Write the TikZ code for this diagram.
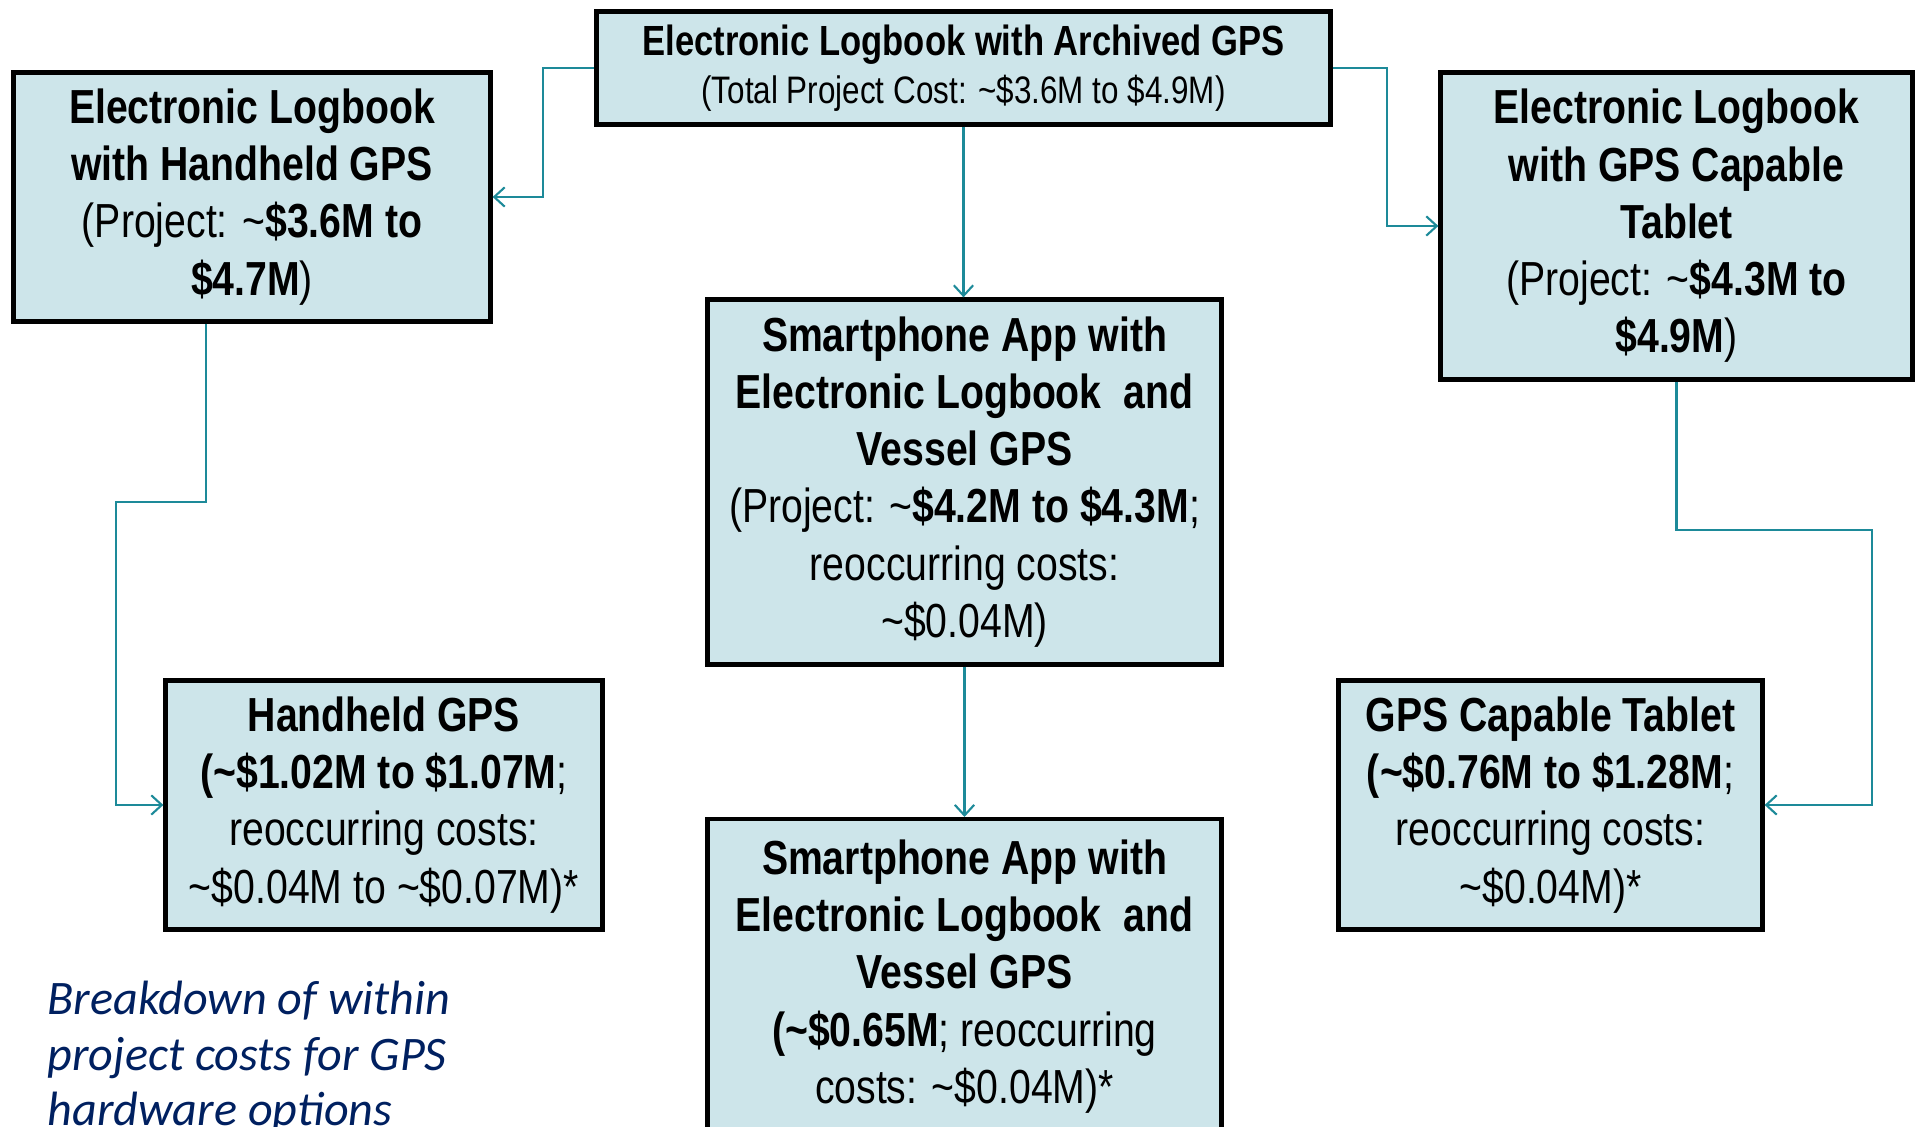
\documentclass[tikz,border=0pt]{standalone}
\usepackage{fontspec}
\setmainfont{Liberation Sans}[FakeStretch=0.82]
\newfontfamily\notefont{Carlito}
\usetikzlibrary{positioning,calc,arrows.meta}
\definecolor{boxfill}{RGB}{205,229,234}
\definecolor{linkteal}{RGB}{29,138,153}
\definecolor{notenavy}{RGB}{0,32,96}
\newcommand{\tld}{\textasciitilde}
\tikzset{
  box/.style={draw=black, fill=boxfill, line width=1.2pt, align=center, inner sep=0pt,
    font=\fontsize{13.6}{16.3}\selectfont},
  link/.style={draw=linkteal, line width=0.6pt, -{Straight Barb[length=3pt,width=5.5pt]}},
  note/.style={text=notenavy, align=left, inner sep=0pt,
    font=\notefont\itshape\fontsize{13.7}{15.9}\selectfont}
}

\begin{document}
\begin{tikzpicture}
\useasboundingbox (0,0) rectangle (19.21,-11.27);
% boxes
\node (top) at (9.635,-0.68) [box][minimum width=7.34cm,minimum height=1.13cm]
  [font=\fontsize{12}{13.6}\selectfont]
  {\textbf{Electronic Logbook with Archived GPS}\\
   {\fontsize{10.9}{13.6}\selectfont(Total Project Cost: \tld\$3.6M to \$4.9M)}};
\node (logHand) at (2.52,-1.97) [box][minimum width=4.77cm,minimum height=2.49cm]
  {\textbf{Electronic Logbook}\\\textbf{with Handheld GPS}\\(Project: \tld\textbf{\$3.6M to}\\\textbf{\$4.7M})};
\node (logTab) at (16.765,-2.26) [box][minimum width=4.72cm,minimum height=3.07cm]
  {\textbf{Electronic Logbook}\\\textbf{with GPS Capable}\\\textbf{Tablet}\\(Project: \tld\textbf{\$4.3M to}\\\textbf{\$4.9M})};
\node (phone) at (9.645,-4.82) [box][minimum width=5.14cm,minimum height=3.65cm]
  {\textbf{Smartphone App with}\\\textbf{Electronic Logbook\ \ and}\\\textbf{Vessel GPS}\\(Project: \tld\textbf{\$4.2M to \$4.3M};\\reoccurring costs:\\\tld\$0.04M)};
\node (phoneHW) at (9.645,-8.17) [box][anchor=north][minimum width=5.14cm,minimum height=3.15cm]
  {\textbf{Smartphone App with}\\\textbf{Electronic Logbook\ \ and}\\\textbf{Vessel GPS}\\\textbf{(\tld\$0.65M}; reoccurring\\costs: \tld\$0.04M)*};
\node (gpsHand) at (3.84,-8.05) [box][minimum width=4.37cm,minimum height=2.49cm]
  {\textbf{Handheld GPS}\\\textbf{(\tld\$1.02M to \$1.07M};\\reoccurring costs:\\\tld\$0.04M to \tld\$0.07M)*};
\node (gpsTab) at (15.505,-8.05) [box][minimum width=4.24cm,minimum height=2.49cm]
  {\textbf{GPS Capable Tablet}\\\textbf{(\tld\$0.76M to \$1.28M};\\reoccurring costs:\\\tld\$0.04M)*};
\node (note) at (0.47,-11.26) [note][anchor=base west]
  {Breakdown of within\\project costs for GPS\\hardware options};
% connectors
\draw [link] (top.west) -- ++(-0.51,0) |- (logHand.east);
\draw [link] (top.east) -- ++(0.54,0) |- (logTab.west);
\draw [link] (top.south) -- (top.south |- phone.north);
\draw [link] (phone.south) -- (phoneHW.north);
\draw [link] ($(logHand.south)+(-0.46,0)$) |- ++(-0.90,-1.78) |- (gpsHand.west);
\draw [link] (logTab.south) |- ++(1.955,-1.48) |- (gpsTab.east);
\end{tikzpicture}
\end{document}
